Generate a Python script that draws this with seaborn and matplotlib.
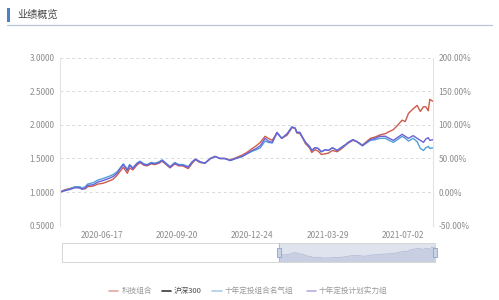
import matplotlib
matplotlib.use("Agg")
import matplotlib.pyplot as plt
import matplotlib.dates as mdates
from matplotlib.lines import Line2D
from matplotlib.patches import Rectangle
import seaborn as sns
import pandas as pd
import numpy as np

# ---------------- data ----------------
dates = [
    "2020-04-25", "2020-05-01", "2020-05-08", "2020-05-14", "2020-05-20", "2020-05-23", "2020-05-27", "2020-05-30", "2020-06-06", "2020-06-12",
    "2020-06-18", "2020-06-25", "2020-07-01", "2020-07-06", "2020-07-10", "2020-07-14", "2020-07-19", "2020-07-22", "2020-07-26", "2020-07-31",
    "2020-08-04", "2020-08-09", "2020-08-13", "2020-08-18", "2020-08-23", "2020-08-28", "2020-09-01", "2020-09-06", "2020-09-11", "2020-09-17",
    "2020-09-22", "2020-09-27", "2020-10-04", "2020-10-09", "2020-10-13", "2020-10-19", "2020-10-25", "2020-11-01", "2020-11-07", "2020-11-13",
    "2020-11-19", "2020-11-26", "2020-12-03", "2020-12-11", "2020-12-17", "2020-12-24", "2020-12-29", "2021-01-03", "2021-01-09", "2021-01-13",
    "2021-01-18", "2021-01-24", "2021-01-30", "2021-02-06", "2021-02-12", "2021-02-16", "2021-02-18", "2021-02-22", "2021-02-26", "2021-03-01",
    "2021-03-06", "2021-03-09", "2021-03-13", "2021-03-17", "2021-03-21", "2021-03-26", "2021-03-30", "2021-04-04", "2021-04-10", "2021-04-16",
    "2021-04-20", "2021-04-24", "2021-04-30", "2021-05-05", "2021-05-12", "2021-05-17", "2021-05-22", "2021-05-28", "2021-06-03", "2021-06-10",
    "2021-06-13", "2021-06-20", "2021-06-25", "2021-07-01", "2021-07-05", "2021-07-09", "2021-07-15", "2021-07-20", "2021-07-24", "2021-07-28",
    "2021-07-31", "2021-08-03", "2021-08-05", "2021-08-09",
]

tech = [  # 科技组合
    1.00, 1.035, 1.055, 1.075, 1.07, 1.05, 1.05, 1.08, 1.09, 1.12,
    1.13, 1.16, 1.19, 1.25, 1.31, 1.37, 1.28, 1.36, 1.33, 1.40,
    1.44, 1.40, 1.39, 1.42, 1.41, 1.43, 1.46, 1.41, 1.36, 1.42,
    1.39, 1.39, 1.35, 1.43, 1.48, 1.44, 1.43, 1.50, 1.53, 1.50,
    1.50, 1.48, 1.51, 1.55, 1.59, 1.65, 1.69, 1.74, 1.83, 1.80,
    1.77, 1.88, 1.80, 1.85, 1.96, 1.95, 1.88, 1.87, 1.79, 1.72,
    1.66, 1.59, 1.63, 1.61, 1.56, 1.57, 1.58, 1.62, 1.60, 1.65,
    1.69, 1.73, 1.77, 1.75, 1.70, 1.75, 1.80, 1.82, 1.85, 1.87,
    1.89, 1.93, 1.99, 2.07, 2.05, 2.17, 2.24, 2.29, 2.20, 2.27,
    2.27, 2.21, 2.38, 2.35,
]

famous = [  # 十年定投组合名气组
    1.00, 1.025, 1.05, 1.08, 1.08, 1.06, 1.08, 1.12, 1.14, 1.18,
    1.20, 1.23, 1.26, 1.30, 1.36, 1.42, 1.34, 1.41, 1.36, 1.43,
    1.46, 1.42, 1.41, 1.44, 1.43, 1.45, 1.48, 1.43, 1.38, 1.44,
    1.41, 1.41, 1.38, 1.45, 1.49, 1.45, 1.43, 1.50, 1.53, 1.50,
    1.50, 1.47, 1.50, 1.53, 1.57, 1.61, 1.63, 1.66, 1.76, 1.74,
    1.73, 1.88, 1.80, 1.87, 1.97, 1.95, 1.89, 1.88, 1.80, 1.74,
    1.68, 1.62, 1.66, 1.65, 1.60, 1.63, 1.62, 1.66, 1.62, 1.67,
    1.70, 1.74, 1.78, 1.75, 1.69, 1.73, 1.77, 1.78, 1.80, 1.80,
    1.78, 1.74, 1.78, 1.83, 1.80, 1.76, 1.80, 1.75, 1.65, 1.62,
    1.66, 1.68, 1.65, 1.66,
]

strength = [  # 十年定投计划实力组
    1.00, 1.02, 1.04, 1.065, 1.06, 1.04, 1.06, 1.10, 1.11, 1.15,
    1.17, 1.20, 1.23, 1.28, 1.35, 1.41, 1.32, 1.40, 1.35, 1.42,
    1.45, 1.41, 1.40, 1.43, 1.42, 1.44, 1.47, 1.42, 1.37, 1.43,
    1.40, 1.40, 1.37, 1.45, 1.49, 1.45, 1.43, 1.50, 1.53, 1.50,
    1.50, 1.47, 1.50, 1.53, 1.57, 1.62, 1.65, 1.69, 1.80, 1.76,
    1.74, 1.89, 1.80, 1.87, 1.97, 1.95, 1.89, 1.89, 1.80, 1.74,
    1.68, 1.62, 1.66, 1.65, 1.60, 1.63, 1.62, 1.66, 1.62, 1.67,
    1.70, 1.74, 1.78, 1.75, 1.69, 1.74, 1.78, 1.80, 1.83, 1.83,
    1.81, 1.77, 1.81, 1.86, 1.83, 1.80, 1.84, 1.80, 1.77, 1.74,
    1.79, 1.81, 1.77, 1.78,
]

series_names = ["科技组合", "沪深300", "十年定投组合名气组", "十年定投计划实力组"]
line_colors = {"科技组合": "#cd5a4b", "十年定投组合名气组": "#4f9fdc", "十年定投计划实力组": "#6a63d6"}
legend_colors = ["#e2a9a1", "#3a3a3a", "#a9cde9", "#b5aee3"]

x_ticks = ["2020-06-17", "2020-09-20", "2020-12-24", "2021-03-29", "2021-07-02"]
y_left_ticks = [0.5, 1.0, 1.5, 2.0, 2.5, 3.0]
y_right_ticks = [-50, 0, 50, 100, 150, 200]
x_start, x_end = "2020-04-25", "2021-08-09"
zoom_start = "2021-01-24"

# ---------------- figure ----------------
sns.set_theme(style="white")
plt.rcParams["font.family"] = ["Noto Sans CJK SC", "DejaVu Sans"]
plt.rcParams["axes.unicode_minus"] = False

fig = plt.figure(figsize=(4.99, 3.0), dpi=100)
fig.patch.set_facecolor("white")

df = pd.DataFrame({
    "date": pd.to_datetime(dates),
    "科技组合": tech,
    "十年定投组合名气组": famous,
    "十年定投计划实力组": strength,
}).melt("date", var_name="series", value_name="nav")

ax = fig.add_axes([0.1202, 0.2477, 0.7475, 0.56])
order = ["科技组合", "十年定投组合名气组", "十年定投计划实力组"]
sns.lineplot(data=df, x="date", y="nav", hue="series", hue_order=order,
             palette=[line_colors[s] for s in order], linewidth=1.0,
             legend=False, ax=ax)

ax.set_xlim(pd.Timestamp(x_start), pd.Timestamp(x_end))
ax.set_ylim(0.5, 3.0)
ax.set_yticks(y_left_ticks)
ax.set_yticklabels([f"{v:.4f}" for v in y_left_ticks])
ax.set_xticks(pd.to_datetime(x_ticks))
ax.xaxis.set_major_formatter(mdates.DateFormatter("%Y-%m-%d"))
ax.set_xlabel("")
ax.set_ylabel("")
ax.grid(axis="y", linestyle=(0, (3, 3)), color="#d9d9d9", linewidth=0.7)
ax.grid(axis="x", visible=False)
for s in ["top", "bottom"]:
    ax.spines[s].set_visible(False)
for s in ["left", "right"]:
    ax.spines[s].set_color("#e3e3e3")
    ax.spines[s].set_linewidth(0.8)
ax.tick_params(axis="both", length=0, labelsize=6, labelcolor="#8c8c8c")
ax.tick_params(axis="y", pad=4)
ax.tick_params(axis="x", pad=4)

axr = ax.twinx()
axr.set_ylim(-50, 200)
axr.set_yticks(y_right_ticks)
axr.set_yticklabels([f"{v:.2f}%" for v in y_right_ticks])
axr.tick_params(axis="y", length=0, labelsize=6, labelcolor="#8c8c8c", pad=4)
axr.grid(False)
for s in axr.spines.values():
    s.set_visible(False)

# ---------------- data zoom slider ----------------
axs = fig.add_axes([0.1237, 0.1277, 0.7480, 0.0633])
axs.set_xlim(pd.Timestamp(x_start), pd.Timestamp(x_end))
axs.set_ylim(1.3, 2.7)
axs.axvspan(pd.Timestamp(zoom_start), pd.Timestamp(x_end), color="#dfe3ee", zorder=0)
sel = df[(df["series"] == "科技组合") & (df["date"] >= pd.Timestamp(zoom_start))]
axs.fill_between(sel["date"], 1.3, sel["nav"], color="#c4cbe0", alpha=0.8, lw=0, zorder=1)
sns.lineplot(data=sel, x="date", y="nav", color="#b4bdd6", linewidth=0.6, ax=axs, legend=False)
axs.set_xticks([])
axs.set_yticks([])
axs.set_xlabel("")
axs.set_ylabel("")
for s in axs.spines.values():
    s.set_color("#d6d6d6")
    s.set_linewidth(0.7)
zfrac = (pd.Timestamp(zoom_start) - pd.Timestamp(x_start)) / (pd.Timestamp(x_end) - pd.Timestamp(x_start))
for xf in [zfrac, 1.0]:
    axs.add_patch(Rectangle((xf - 0.006, 0.27), 0.012, 0.46, transform=axs.transAxes,
                            facecolor="#c9d3e8", edgecolor="#8ea2c8", lw=0.6,
                            clip_on=False, zorder=5))
    axs.plot([xf, xf], [0, 1], transform=axs.transAxes, color="#a8b6d2", lw=0.6, zorder=4)

# ---------------- title ----------------
fig.patches.append(Rectangle((7.3 / 499, 1 - 22 / 300), 2.7 / 499, 14 / 300,
                             transform=fig.transFigure, facecolor="#4b80c3", edgecolor="none"))
fig.text(17 / 499, 1 - 15 / 300, "业绩概览", fontsize=7.3, color="#444444", va="center", ha="left")
fig.lines.append(Line2D([7 / 499, 492 / 499], [1 - 25 / 300, 1 - 25 / 300],
                        transform=fig.transFigure, color="#b9c5d8", lw=0.9))

# ---------------- legend ----------------
leg_y = 1 - 290.7 / 300
dash_x = [(109, 118), (162, 171), (212, 222), (307, 316)]
text_x = [122, 174, 225, 319]
text_colors = ["#9a9a9a", "#4a4a4a", "#9a9a9a", "#9a9a9a"]
for name, col, (d0, d1), tx, tc in zip(series_names, legend_colors, dash_x, text_x, text_colors):
    fig.lines.append(Line2D([d0 / 499, d1 / 499], [leg_y, leg_y], transform=fig.transFigure,
                            color=col, lw=1.2))
    fig.text(tx / 499, leg_y, name, fontsize=5.5, color=tc, va="center", ha="left")

fig.savefig("out.png", dpi=100, facecolor="white")
